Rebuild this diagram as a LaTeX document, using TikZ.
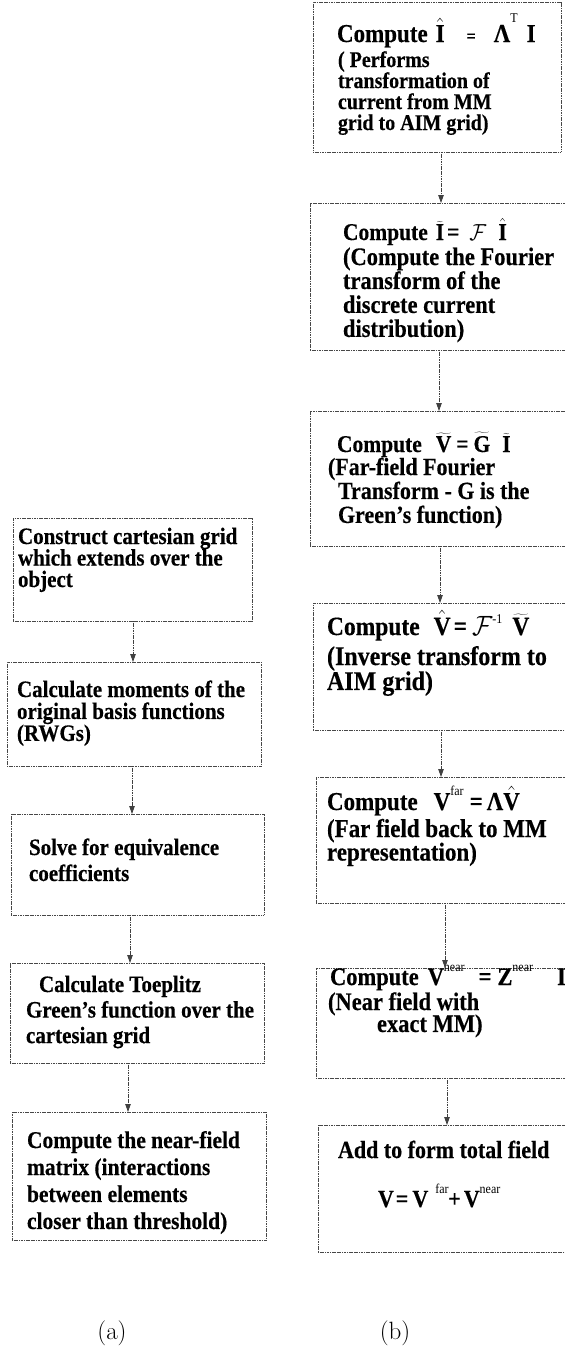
\documentclass[tikz,border=0pt]{standalone}
\usepackage{fontspec}
\usetikzlibrary{arrows.meta}
\newfontfamily\tnr[BoldFeatures={FakeBold=0.4}]{Liberation Serif}
\newcommand\xlns[2]{\scalebox{1}[1.12]{\parbox[t]{240pt}{\raggedright\lineskiplimit=-30pt\baselineskip=#1\relax #2}}}
\newcommand\xone[1]{\scalebox{1}[1.12]{#1}}
\newcommand\xfs[2]{\fontsize{#1}{#2}\selectfont}
\newcommand\xtl[1]{\ensuremath{\widetilde{\mbox{#1}}}}
\newcommand\xht[1]{\ensuremath{\hat{\mbox{#1}}}}
\newcommand\xsup[2]{\raisebox{#1}{\fontsize{12}{13}\selectfont\mdseries #2}}
\begin{document}
\begin{tikzpicture}[x=1pt,y=-1pt,
  box/.style={draw=black!72, line width=0.8pt, dash pattern=on 1.2pt off 0.5pt, inner sep=0pt, outer sep=0pt},
  txt/.style={anchor=base west, inner sep=0pt, outer sep=0pt},
  arr/.style={draw=black!75, line width=0.8pt, dash pattern=on 1.2pt off 0.5pt, -{Triangle[length=8pt,width=5.5pt]}},
  lab/.style={inner sep=0pt, font=\xfs{25}{25}}]
\clip (0,0) rectangle (565,1358);
% ---- left column (a)
\node[box, minimum width=239pt, minimum height=103pt] (a1) at (132.5,569.5) {};
\node[box, minimum width=254pt, minimum height=104pt] (a2) at (134,714) {};
\node[box, minimum width=253pt, minimum height=101pt] (a3) at (137.5,864.5) {};
\node[box, minimum width=254pt, minimum height=100pt] (a4) at (137,1013) {};
\node[box, minimum width=254pt, minimum height=128pt] (a5) at (139,1176) {};
\node[txt, font={\tnr\bfseries\xfs{21}{21}}] (ta1) at (18,544) {\xlns{19.2pt}{Construct cartesian grid\\which extends over the\\object}};
\node[txt, font={\tnr\bfseries\xfs{21}{21}}] (ta2) at (17,697) {\xlns{19.6pt}{Calculate moments of the\\original basis functions\\(RWGs)}};
\node[txt, font={\tnr\bfseries\xfs{21}{21}}] (ta3) at (29,855) {\xlns{23.2pt}{Solve for equivalence\\coefficients}};
\node[txt, font={\tnr\bfseries\xfs{21}{21}}] (ta4) at (26,992) {\xlns{22.8pt}{\hspace*{13pt}Calculate Toeplitz\\Green’s function over the\\cartesian grid}};
\node[txt, font={\tnr\bfseries\xfs{21.5}{21}}] (ta5) at (27,1148) {\xlns{24.1pt}{Compute the near-field\\matrix (interactions\\between elements\\closer than threshold)}};
\draw[arr] (a1.south -| 133,0) -- (a2.north -| 133,0);
\draw[arr] (a2.south -| 132,0) -- (a3.north -| 132,0);
\draw[arr] (a3.south -| 130,0) -- (a4.north -| 130,0);
\draw[arr] (a4.south -| 128,0) -- (a5.north -| 128,0);
% ---- right column (b)
\node[box, minimum width=248pt, minimum height=150pt] (b1) at (437,77) {};
\node[box, minimum width=265pt, minimum height=147pt] (b2) at (442.5,276.5) {};
\node[box, minimum width=265pt, minimum height=135pt] (b3) at (442.5,478.5) {};
\node[box, minimum width=262pt, minimum height=127pt] (b4) at (444,666.5) {};
\node[box, minimum width=259pt, minimum height=126pt] (b5) at (445.5,840) {};
\node[box, minimum width=259pt, minimum height=110pt] (b6) at (445.5,1023) {};
\node[box, minimum width=257pt, minimum height=127pt] (b7) at (446.5,1188.5) {};
% b1
\node[txt, font={\tnr\bfseries\xfs{23}{23}}] (hb1) at (337,42) {\xone{Compute\hspace{8pt}\xht{I}\hspace{22pt}{\xfs{16}{16}=}\hspace{18pt}Λ\xsup{17pt}{T}\hspace{9pt}I}};
\node[txt, font={\tnr\bfseries\xfs{20}{20}}] (tb1) at (338,67) {\xlns{18.75pt}{( Performs\\transformation of\\current from MM\\grid to AIM grid)}};
% b2
\node[txt, font={\tnr\bfseries\xfs{21.5}{22}}] (hb2) at (343,240) {\xone{Compute\hspace{8pt}\xtl{I}\hspace{3pt}=\hspace{10pt}$\mathcal{F}$\hspace{12pt}\xht{I}}};
\node[txt, font={\tnr\bfseries\xfs{22.5}{22}}] (tb2) at (343,265) {\xlns{21.4pt}{(Compute the Fourier\\transform of the\\discrete current\\distribution)}};
% b3
\node[txt, font={\tnr\bfseries\xfs{21.5}{22}}] (hb3) at (337,452) {\xone{Compute\hspace{14pt}\xtl{V}\hspace{5pt}=\hspace{5pt}\xtl{G}\hspace{12pt}\xtl{I}}};
\node[txt, font={\tnr\bfseries\xfs{22}{22}}] (tb3) at (328,475) {\xlns{21.4pt}{(Far-field Fourier\\\hspace*{10pt}Transform - G is the\\\hspace*{10pt}Green’s function)}};
% b4
\node[txt, font={\tnr\bfseries\xfs{23.5}{24}}] (hb4) at (327,635) {\xone{Compute\hspace{14pt}\xht{V}\hspace{3pt}=\hspace{5pt}$\mathcal{F}$\xsup{10pt}{-1}\hspace{10pt}\xtl{V}}};
\node[txt, font={\tnr\bfseries\xfs{24}{24}}] (tb4) at (327,665) {\xlns{22.3pt}{(Inverse transform to\\AIM grid)}};
% b5
\node[txt, font={\tnr\bfseries\xfs{23}{23}}] (hb5) at (327,810) {\xone{Compute\hspace{16pt}V\xsup{13pt}{far}\hspace{6pt}=\hspace{4pt}Λ\xht{V}}};
\node[txt, font={\tnr\bfseries\xfs{23}{23}}] (tb5) at (327,837) {\xlns{21pt}{(Far field back to MM\\representation)}};
% b6
\node[txt, font={\tnr\bfseries\xfs{22.5}{23}}] (hb6) at (330,985) {\xone{Compute\hspace{9pt}V\xsup{12pt}{near}\hspace{14pt}=\hspace{6pt}Z\xsup{12pt}{near}\hspace{24pt}I}};
\node[txt, font={\tnr\bfseries\xfs{22.5}{22}}] (tb6) at (328,1010) {\xlns{19.6pt}{(Near field with\\\hspace*{49pt}exact MM)}};
% b7
\node[txt, font={\tnr\bfseries\xfs{22}{22}}] (tb7) at (338,1158) {\xone{Add to form total field}};
\node[txt, font={\tnr\bfseries\xfs{22}{22}}] (fb7) at (378,1207) {\xone{V\hspace{2pt}=\hspace{4pt}V\rlap{\hspace{7pt}\xsup{12pt}{far}}\hspace{20pt}+\hspace{3pt}V\xsup{12pt}{near}}};
\draw[arr] (b1.south -| 441,0) -- (b2.north -| 441,0);
\draw[arr] (b2.south -| 439,0) -- (b3.north -| 439,0);
\draw[arr] (b3.south -| 440,0) -- (b4.north -| 440,0);
\draw[arr] (b4.south -| 441,0) -- (b5.north -| 441,0);
\draw[arr] (b5.south -| 445,0) -- (b6.north -| 445,0);
\draw[arr] (b6.south -| 447,0) -- (b7.north -| 447,0);
% ---- captions
\node[lab] (la) at (112,1333) {(a)};
\node[lab] (lb) at (395,1333) {(b)};
\end{tikzpicture}
\end{document}
